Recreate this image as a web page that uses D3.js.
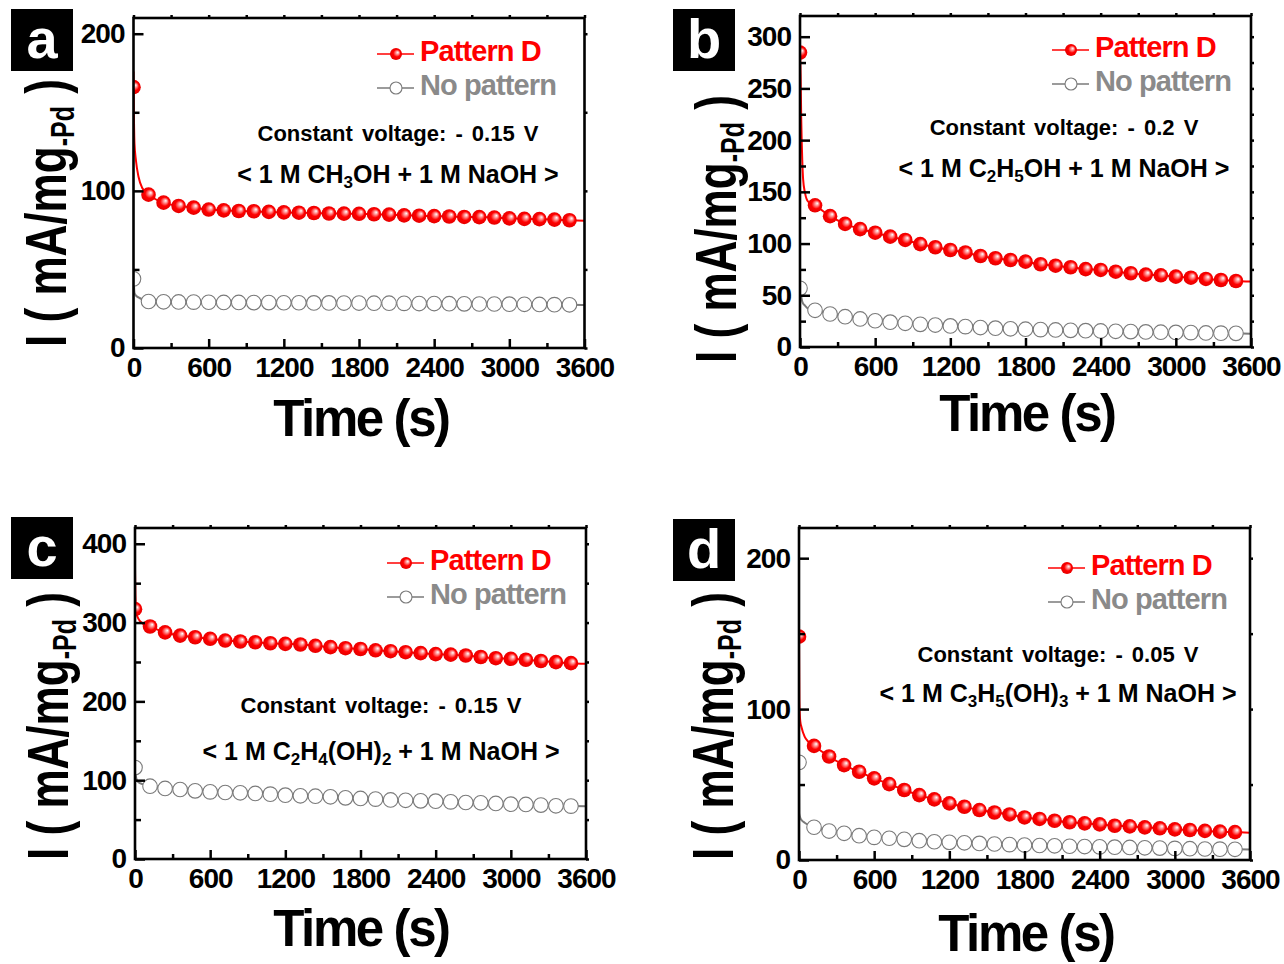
<!doctype html>
<html lang="en">
<head>
    <meta http-equiv="content-type" content="text/html; charset=utf-8" />
    <title>Chronoamperometry: Pattern D vs No pattern</title>
    <style>
        body { margin: 0; background: #fff; }
        svg text { font-family: "Liberation Sans", Arial, sans-serif; font-weight: bold; }
    </style>
</head>
<body>
    <svg id="chart" width="1284" height="964"></svg>

    <script src="https://cdn.jsdelivr.net/npm/d3@7"></script>

    <script>
        // time of each plotted symbol (s), the curves run on to 3600 s
        const markTimes = [0, 120, 240, 360, 480, 600, 720, 840, 960, 1080, 1200, 1320, 1440, 1560, 1680,
            1800, 1920, 2040, 2160, 2280, 2400, 2520, 2640, 2760, 2880, 3000, 3120, 3240, 3360, 3480];
        const endTime = 3600;
        const xTicks = [0, 600, 1200, 1800, 2400, 3000, 3600];
        const xMinor = [300, 900, 1500, 2100, 2700, 3300];
        const seriesNames = ["Pattern D", "No pattern"];

        // a : methanol
        const headTimesA = [0, 3, 8, 20, 40, 70];
        const headRedA = [176, 151, 130, 119, 109, 101.8];
        const headGrayA = [49.5, 42, 35, 33.3, 32.2, 31];
        const redA = [166, 97.6, 92.5, 90.4, 89.3, 88.1, 87.6, 87.2, 87.0, 86.6, 86.3, 86.1, 85.9, 85.6, 85.5,
            85.4, 85.1, 84.9, 84.4, 84.2, 83.9, 83.7, 83.4, 83.3, 83.0, 82.5, 82.2, 82.0, 81.7, 81.3];
        const grayA = [44, 29.6, 29.4, 29.3, 29.2, 29.1, 29.0, 29.0, 28.9, 28.9, 28.8, 28.8, 28.7, 28.7, 28.6,
            28.6, 28.5, 28.5, 28.4, 28.3, 28.3, 28.2, 28.1, 28.0, 28.0, 27.9, 27.8, 27.7, 27.6, 27.5];
        const endA = [81.0, 27.4];
        const yTicksA = [0, 100, 200], yMinorA = [50, 150];

        // b : ethanol
        const headTimesB = [0, 5, 10, 18, 25, 40, 65];
        const headRedB = [289, 262, 220, 181, 162, 149, 140.5];
        const headGrayB = [60, 54, 49, 44, 42, 40, 37];
        const redB = [284.6, 137, 126.5, 119, 114, 110.5, 106.7, 103.5, 99.5, 96.4, 93.8, 91.4, 88, 85.8, 84.1,
            82.5, 80, 78.6, 77.1, 75.3, 74.5, 72.8, 71.3, 70, 69.3, 68, 67, 65.8, 64.8, 63.8];
        const grayB = [56.7, 35.5, 31.9, 29.3, 27.1, 25.4, 24, 22.9, 21.9, 21.2, 20.4, 19.7, 18.8, 18.2, 17.6,
            17.2, 16.8, 16.5, 16.1, 15.8, 15.5, 15.2, 14.9, 14.6, 14.3, 14.1, 13.9, 13.6, 13.4, 13.2];
        const endB = [63.2, 12.7];
        const yTicksB = [0, 50, 100, 150, 200, 250, 300], yMinorB = [25, 75, 125, 175, 225, 275];

        // c : ethylene glycol
        const headTimesC = [0, 3, 8, 15, 30, 60];
        const headRedC = [368, 335, 318, 310, 304, 299];
        const headGrayC = [122, 110, 104, 100, 97, 95];
        const redC = [317, 295, 287.5, 283.5, 281.4, 279.4, 277.2, 276, 275, 273.8, 273, 272.2, 270.5, 268.8, 267.5,
            266.5, 264.8, 263.7, 262.4, 261.2, 260, 259.3, 258.2, 256.3, 254.8, 254, 252.8, 251.2, 249.8, 248.5];
        const grayC = [116, 92.4, 89.5, 88.2, 86.5, 85.2, 84.4, 84, 83.2, 82.3, 81, 80.2, 79.7, 78.9, 77.6,
            76.8, 76, 74.9, 74.5, 73.8, 73.4, 72.5, 71.7, 71.3, 70.5, 69.6, 69.2, 68.4, 67.5, 67.1];
        const endC = [247.7, 67];
        const yTicksC = [0, 100, 200, 300, 400], yMinorC = [50, 150, 250, 350];

        // d : glycerol
        const headTimesD = [0, 3, 10, 20, 45, 75];
        const headRedD = [152, 106, 92, 88, 81.7, 78.3];
        const headGrayD = [68.4, 31, 28, 26.5, 24.7, 23.2];
        const redD = [148, 75.6, 68.6, 62.9, 58.5, 54.1, 50.3, 46.4, 43, 40.2, 37.5, 35.3, 33.1, 31.5, 30.2,
            28.2, 27.2, 26, 25, 24.3, 23.6, 22.7, 22.3, 21.6, 21, 20.3, 19.9, 19.3, 18.8, 18.5];
        const grayD = [64.7, 21.7, 19.2, 17.7, 16.1, 15, 14.4, 13.7, 12.8, 12.1, 11.7, 11.4, 11, 10.6, 10.2,
            9.9, 9.6, 9.4, 9.1, 8.9, 8.7, 8.5, 8.3, 8.1, 7.9, 7.7, 7.5, 7.3, 7.2, 7.1];
        const endD = [18.1, 7.0];
        const yTicksD = [0, 100, 200], yMinorD = [50, 150];

        // annotation texts, [text, isSubscript]
        const voltages = ["- 0.15 V", "- 0.2 V", "- 0.15 V", "- 0.05 V"];
        const solutions = [
            [["< 1 M CH", 0], ["3", 1], ["OH + 1 M NaOH >", 0]],
            [["< 1 M C", 0], ["2", 1], ["H", 0], ["5", 1], ["OH + 1 M NaOH >", 0]],
            [["< 1 M C", 0], ["2", 1], ["H", 0], ["4", 1], ["(OH)", 0], ["2", 1], [" + 1 M NaOH >", 0]],
            [["< 1 M C", 0], ["3", 1], ["H", 0], ["5", 1], ["(OH)", 0], ["3", 1], [" + 1 M NaOH >", 0]]
        ];

        const RED = "#ff0000", GRAY = "#7a7a7a", LEGEND_GRAY = "#8a8a8a";

        const panels = [
            { key: "a", box: [133.5, 18, 584.5, 348], yMax: 210, yTicks: yTicksA, yMinor: yMinorA,
              head: headTimesA, red: [headRedA, redA, endA[0]], gray: [headGrayA, grayA, endA[1]],
              tag: [11, 9], legend: [377, 61], note: [398, 141, 183], title: [361, 436], ylab: [66, 213] },
            { key: "b", box: [800, 16, 1251, 347], yMax: 320, yTicks: yTicksB, yMinor: yMinorB,
              head: headTimesB, red: [headRedB, redB, endB[0]], gray: [headGrayB, grayB, endB[1]],
              tag: [673, 9], legend: [1052, 57], note: [1064, 135, 177], title: [1027, 431], ylab: [736, 229] },
            { key: "c", box: [135, 528, 586, 859], yMax: 420, yTicks: yTicksC, yMinor: yMinorC,
              head: headTimesC, red: [headRedC, redC, endC[0]], gray: [headGrayC, grayC, endC[1]],
              tag: [11, 517], legend: [387, 570], note: [381, 713, 760], title: [361, 946], ylab: [68, 726] },
            { key: "d", box: [799, 528, 1250, 860], yMax: 220, yTicks: yTicksD, yMinor: yMinorD,
              head: headTimesD, red: [headRedD, redD, endD[0]], gray: [headGrayD, grayD, endD[1]],
              tag: [673, 519], legend: [1048, 575], note: [1058, 662, 702], title: [1026, 951], ylab: [733, 726] }
        ];

        const svg = d3.select("#chart");
        const defs = svg.append("defs");

        // shiny red ball
        const grad = defs.append("radialGradient").attr("id", "ball")
            .attr("cx", 0.5).attr("cy", 0.5).attr("r", 0.55).attr("fx", 0.66).attr("fy", 0.36);
        grad.append("stop").attr("offset", "0%").attr("stop-color", "#ffffff");
        grad.append("stop").attr("offset", "22%").attr("stop-color", "#ff9a9a");
        grad.append("stop").attr("offset", "55%").attr("stop-color", "#ff0000");
        grad.append("stop").attr("offset", "100%").attr("stop-color", "#e00000");

        panels.forEach((p, idx) => drawPanel(p, idx));

        function drawPanel(p, idx) {
            const [x0, y0, x1, y1] = p.box;
            const x = d3.scaleLinear().domain([0, 3600]).range([x0, x1]);
            const y = d3.scaleLinear().domain([0, p.yMax]).range([y1, y0]);
            const g = svg.append("g");

            defs.append("clipPath").attr("id", "clip-" + p.key)
                .append("rect").attr("x", x0).attr("y", y0).attr("width", x1 - x0).attr("height", y1 - y0);

            const plot = g.append("g").attr("clip-path", `url(#clip-${p.key})`);
            const line = d3.line().x(d => x(d[0])).y(d => y(d[1])).curve(d3.curveMonotoneX);

            [["gray", p.gray], ["red", p.red]].forEach(([name, s]) => {
                const [head, marks, end] = s;
                const pts = p.head.map((t, i) => [t, head[i]])
                    .concat(markTimes.slice(1).map((t, i) => [t, marks[i + 1]]))
                    .concat([[endTime, end]]);
                const col = name === "red" ? RED : GRAY;
                plot.append("path").datum(pts)
                    .attr("fill", "none").attr("stroke", col).attr("stroke-width", 2)
                    .attr("d", line);
                plot.append("g").selectAll("circle")
                    .data(markTimes.map((t, i) => [t, marks[i]]))
                    .join("circle")
                    .attr("cx", d => x(d[0])).attr("cy", d => y(d[1]))
                    .attr("r", 7.3)
                    .attr("fill", name === "red" ? "url(#ball)" : "#fff")
                    .attr("stroke", name === "red" ? "none" : GRAY)
                    .attr("stroke-width", 1.1);
            });

            // inward ticks
            const tickStyle = sel => {
                sel.select(".domain").remove();
                sel.selectAll(".tick line").attr("stroke", "#000").attr("stroke-width", 2.5);
                sel.selectAll(".tick text").attr("fill", "#000").attr("font-size", 28)
                    .attr("letter-spacing", -1)
                    .attr("font-family", "'Liberation Sans', Arial, sans-serif");
            };
            g.append("g").attr("transform", `translate(${x0},0)`)
                .call(d3.axisLeft(y).tickValues(p.yTicks).tickSize(-10).tickPadding(9).tickFormat(d3.format("d")))
                .call(tickStyle);
            g.append("g").attr("transform", `translate(${x0},0)`)
                .call(d3.axisLeft(y).tickValues(p.yMinor).tickSize(-6).tickFormat(""))
                .call(tickStyle);
            g.append("g").attr("transform", `translate(0,${y1})`)
                .call(d3.axisBottom(x).tickValues(xTicks).tickSize(-9).tickPadding(9).tickFormat(d3.format("d")))
                .call(tickStyle);
            g.append("g").attr("transform", `translate(0,${y1})`)
                .call(d3.axisBottom(x).tickValues(xMinor).tickSize(-5).tickFormat(""))
                .call(tickStyle);
            // small mirror ticks on top and right
            g.append("g").attr("transform", `translate(${x1},0)`)
                .call(d3.axisRight(y).tickValues(p.yTicks.concat(p.yMinor)).tickSize(3).tickFormat(""))
                .call(tickStyle);
            g.append("g").attr("transform", `translate(0,${y0})`)
                .call(d3.axisTop(x).tickValues(xTicks.concat(xMinor)).tickSize(3).tickFormat(""))
                .call(tickStyle);

            g.append("rect").attr("x", x0).attr("y", y0).attr("width", x1 - x0).attr("height", y1 - y0)
                .attr("fill", "none").attr("stroke", "#000").attr("stroke-width", 2.6);

            // panel tag
            g.append("rect").attr("x", p.tag[0]).attr("y", p.tag[1]).attr("width", 62).attr("height", 62).attr("fill", "#000");
            g.append("text").attr("x", p.tag[0] + 31).attr("y", p.tag[1] + 49)
                .attr("text-anchor", "middle").attr("fill", "#fff").attr("font-size", 56).text(p.key);

            // legend
            const [lx, ly] = p.legend;
            seriesNames.forEach((nm, i) => {
                const yy = ly + i * 34, sy = yy - 7;
                const col = i === 0 ? RED : GRAY;
                g.append("line").attr("x1", lx).attr("x2", lx + 37).attr("y1", sy).attr("y2", sy)
                    .attr("stroke", col).attr("stroke-width", 1.6);
                g.append("circle").attr("cx", lx + 19).attr("cy", sy).attr("r", 6)
                    .attr("fill", i === 0 ? "url(#ball)" : "#fff")
                    .attr("stroke", i === 0 ? "none" : GRAY).attr("stroke-width", 1.1);
                g.append("text").attr("x", lx + 43).attr("y", yy)
                    .attr("font-size", 29).attr("letter-spacing", -0.9)
                    .attr("fill", i === 0 ? RED : LEGEND_GRAY).text(nm);
            });

            // annotation
            const [nx, n1, n2] = p.note;
            g.append("text").attr("x", nx).attr("y", n1).attr("text-anchor", "middle")
                .attr("font-size", 22).attr("word-spacing", 3)
                .text("Constant voltage:  " + voltages[idx]);
            const t2 = g.append("text").attr("x", nx).attr("y", n2).attr("text-anchor", "middle")
                .attr("font-size", 25).attr("word-spacing", 0);
            let shifted = false;
            solutions[idx].forEach(([s, sub]) => {
                const ts = t2.append("tspan").text(s);
                if (sub && !shifted) { ts.attr("dy", 5).attr("font-size", 17); shifted = true; }
                else if (sub) ts.attr("font-size", 17);
                else if (shifted) { ts.attr("dy", -5); shifted = false; }
            });

            // axis titles
            g.append("text").attr("x", p.title[0]).attr("y", p.title[1]).attr("text-anchor", "middle")
                .attr("font-size", 51).attr("letter-spacing", -2.4).text("Time (s)");

            const yl = g.append("text").attr("font-size", 58);
            yl.append("tspan").text("I ( mA/mg");
            yl.append("tspan").attr("font-size", 33).attr("dy", 8).text("-Pd");
            yl.append("tspan").attr("dy", -8).text(" )");
            const w = yl.node().getComputedTextLength();
            const k = 268 / w;
            yl.attr("transform", `translate(${p.ylab[0]},${p.ylab[1]}) rotate(-90) scale(${k},1) translate(${-w / 2},0)`);
        }
    </script>
</body>
</html>
